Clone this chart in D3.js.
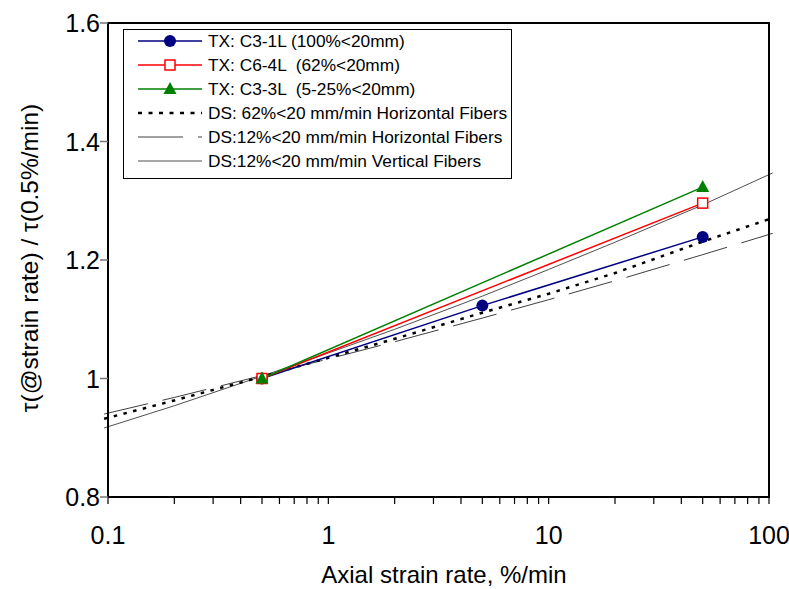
<!DOCTYPE html>
<html><head><meta charset="utf-8">
<script src="https://cdn.jsdelivr.net/npm/d3@7"></script>
<style>body{margin:0;background:#fff}svg{display:block}text{font-family:"Liberation Sans",Arial,sans-serif}</style>
</head><body><svg id="c" width="789" height="589"></svg>
<script>
const xTicks = [0.1, 1, 10, 100];
const yTicks = [0.8, 1.0, 1.2, 1.4, 1.6];
const yTickLabels = ["0.8", "1", "1.2", "1.4", "1.6"];

const txRates = [0.5, 5, 50];
const txC31L = [1.0, 1.123, 1.239];
const txC64LRates = [0.5, 50];
const txC64L = [1.0, 1.296];
const txC33LRates = [0.5, 50];
const txC33L = [1.0, 1.323];

const dsRates = [0.096, 0.2, 0.5, 1, 2, 5, 10, 20, 50, 104];
const ds62H = [0.932, 0.963, 1.003, 1.035, 1.067, 1.111, 1.143, 1.178, 1.231, 1.271];
const ds12H = [0.940, 0.968, 1.005, 1.033, 1.062, 1.102, 1.133, 1.165, 1.209, 1.245];
const ds12V = [0.9165, 0.954, 1.004, 1.043, 1.083, 1.139, 1.184, 1.230, 1.293, 1.347];

const legendLabels = [
  "TX: C3-1L (100%<20mm)",
  "TX: C6-4L  (62%<20mm)",
  "TX: C3-3L  (5-25%<20mm)",
  "DS: 62%<20 mm/min Horizontal Fibers",
  "DS:12%<20 mm/min Horizontal Fibers",
  "DS:12%<20 mm/min Vertical Fibers"
];

const svg = d3.select("#c");
const L = 108, R = 769, T = 23, B = 497;
const x = d3.scaleLog().domain([0.1, 100]).range([L, R]);
const y = d3.scaleLinear().domain([0.8, 1.6]).range([B, T]);

const series = [
  {rates: dsRates, vals: ds12V, color: "#505050", width: 1, dash: null},
  {rates: dsRates, vals: ds12H, color: "#404040", width: 1, dash: "45,15"},
  {rates: dsRates, vals: ds62H, color: "#000", width: 2.5, dash: "3.5,6.5"},
  {rates: txRates, vals: txC31L, color: "#000080", width: 1.5, dash: null, marker: "circle"},
  {rates: txC64LRates, vals: txC64L, color: "#ff0000", width: 1.5, dash: null, marker: "square"},
  {rates: txC33LRates, vals: txC33L, color: "#008000", width: 1.5, dash: null, marker: "triangle"}
];

const line = d3.line().x(d => x(d[0])).y(d => y(d[1]));
series.forEach(s => {
  const pts = s.rates.map((r, i) => [r, s.vals[i]]);
  svg.append("path").attr("d", line(pts)).attr("fill", "none")
    .attr("stroke", s.color).attr("stroke-width", s.width)
    .attr("stroke-dasharray", s.dash);
});

function marker(g, type, cx, cy) {
  if (type === "circle") g.append("circle").attr("cx", cx).attr("cy", cy).attr("r", 6).attr("fill", "#000080");
  if (type === "square") g.append("rect").attr("x", cx - 5).attr("y", cy - 5).attr("width", 10).attr("height", 10).attr("fill", "#fff").attr("stroke", "#ff0000").attr("stroke-width", 1.5);
  if (type === "triangle") g.append("path").attr("d", `M${cx},${cy-7}L${cx+6.5},${cy+5}L${cx-6.5},${cy+5}Z`).attr("fill", "#008000");
}
const mg = svg.append("g");
series.forEach(s => { if (s.marker) s.rates.forEach((r, i) => marker(mg, s.marker, x(r), y(s.vals[i]))); });

// frame
svg.append("rect").attr("x", L).attr("y", T).attr("width", R - L).attr("height", B - T)
  .attr("fill", "none").attr("stroke", "#000").attr("stroke-width", 2);

// x axis ticks
const xAll = [];
[0.1, 1, 10].forEach(d => { for (let k = 1; k < 10; k++) xAll.push(d * k); });
xAll.push(100);
svg.append("g").selectAll("line").data(xAll).join("line")
  .attr("x1", d => x(d)).attr("x2", d => x(d)).attr("y1", B).attr("y2", B + 7)
  .attr("stroke", "#000").attr("stroke-width", 1.2);
svg.append("g").selectAll("text").data(xTicks).join("text")
  .attr("x", d => x(d)).attr("y", B + 47).attr("text-anchor", "middle")
  .attr("font-size", 25).text(d => d3.format("~g")(d));

// y axis ticks
svg.append("g").selectAll("line").data(yTicks).join("line")
  .attr("x1", L - 8).attr("x2", L).attr("y1", d => y(d)).attr("y2", d => y(d))
  .attr("stroke", "#777").attr("stroke-width", 1.5);
svg.append("g").selectAll("text").data(yTicks).join("text")
  .attr("x", L - 8).attr("y", d => y(d) + 9).attr("text-anchor", "end")
  .attr("font-size", 25).text((d, i) => yTickLabels[i]);

// titles
svg.append("text").attr("x", 444).attr("y", 583).attr("text-anchor", "middle")
  .attr("font-size", 24).text("Axial strain rate, %/min");
svg.append("text").attr("transform", "translate(38,258) rotate(-90)").attr("text-anchor", "middle")
  .attr("font-size", 24.5).text("τ(@strain rate) / τ(0.5%/min)");

// legend
const lg = svg.append("g");
lg.append("rect").attr("x", 123.5).attr("y", 29.5).attr("width", 388).attr("height", 149)
  .attr("fill", "#fff").attr("stroke", "#000").attr("stroke-width", 1);
const legOrder = [3, 4, 5, 2, 1, 0];
legOrder.forEach((si, i) => {
  const s = series[si];
  const ly = 41 + i * 24;
  lg.append("line").attr("x1", 138).attr("x2", 202).attr("y1", ly).attr("y2", ly)
    .attr("stroke", s.color).attr("stroke-width", s.width)
    .attr("stroke-dasharray", s.dash === "3.5,6.5" ? "4,6.5" : s.dash);
  if (s.marker) marker(lg, s.marker, 170, ly);
  lg.append("text").attr("x", 208).attr("y", ly + 6).attr("font-size", 17.3)
    .attr("xml:space", "preserve").style("white-space", "pre").text(legendLabels[i]);
});
</script></body></html>
